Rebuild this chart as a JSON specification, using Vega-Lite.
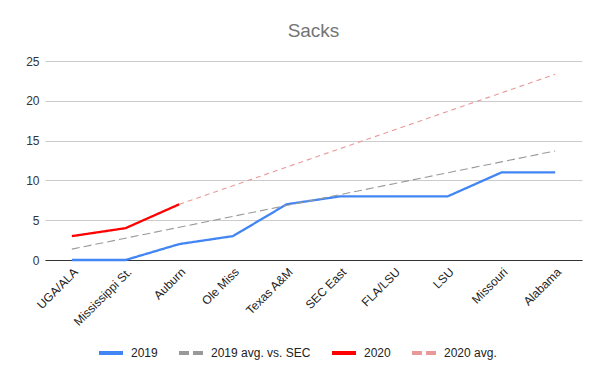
{
  "$schema": "https://vega.github.io/schema/vega-lite/v6.json",
  "width": 537,
  "height": 199,
  "autosize": {"type": "none"},
  "padding": {"left": 45, "top": 61, "right": 18, "bottom": 111},
  "background": "white",
  "config": {
    "font": "Liberation Sans",
    "view": {"stroke": null}
  },
  "title": {
    "text": "Sacks",
    "fontSize": 19,
    "fontWeight": "normal",
    "color": "#757575",
    "anchor": "middle",
    "offset": 14
  },
  "data": {
    "values": [
      {"game": "UGA/ALA", "series": "2019", "value": 0},
      {"game": "Mississippi St.", "series": "2019", "value": 0},
      {"game": "Auburn", "series": "2019", "value": 2},
      {"game": "Ole Miss", "series": "2019", "value": 3},
      {"game": "Texas A&M", "series": "2019", "value": 7},
      {"game": "SEC East", "series": "2019", "value": 8},
      {"game": "FLA/LSU", "series": "2019", "value": 8},
      {"game": "LSU", "series": "2019", "value": 8},
      {"game": "Missouri", "series": "2019", "value": 11},
      {"game": "Alabama", "series": "2019", "value": 11},
      {"game": "UGA/ALA", "series": "2019 avg. vs. SEC", "value": 1.37},
      {"game": "Mississippi St.", "series": "2019 avg. vs. SEC", "value": 2.74},
      {"game": "Auburn", "series": "2019 avg. vs. SEC", "value": 4.11},
      {"game": "Ole Miss", "series": "2019 avg. vs. SEC", "value": 5.48},
      {"game": "Texas A&M", "series": "2019 avg. vs. SEC", "value": 6.85},
      {"game": "SEC East", "series": "2019 avg. vs. SEC", "value": 8.22},
      {"game": "FLA/LSU", "series": "2019 avg. vs. SEC", "value": 9.59},
      {"game": "LSU", "series": "2019 avg. vs. SEC", "value": 10.96},
      {"game": "Missouri", "series": "2019 avg. vs. SEC", "value": 12.33},
      {"game": "Alabama", "series": "2019 avg. vs. SEC", "value": 13.7},
      {"game": "UGA/ALA", "series": "2020", "value": 3},
      {"game": "Mississippi St.", "series": "2020", "value": 4},
      {"game": "Auburn", "series": "2020", "value": 7},
      {"game": "Auburn", "series": "2020 avg.", "value": 7},
      {"game": "Ole Miss", "series": "2020 avg.", "value": 9.33},
      {"game": "Texas A&M", "series": "2020 avg.", "value": 11.67},
      {"game": "SEC East", "series": "2020 avg.", "value": 14},
      {"game": "FLA/LSU", "series": "2020 avg.", "value": 16.33},
      {"game": "LSU", "series": "2020 avg.", "value": 18.67},
      {"game": "Missouri", "series": "2020 avg.", "value": 21},
      {"game": "Alabama", "series": "2020 avg.", "value": 23.33}
    ]
  },
  "mark": {"type": "line", "strokeCap": "butt", "strokeJoin": "round"},
  "encoding": {
    "x": {
      "field": "game",
      "type": "nominal",
      "scale": {
        "type": "point",
        "padding": 0.5,
        "domain": ["UGA/ALA", "Mississippi St.", "Auburn", "Ole Miss", "Texas A&M", "SEC East", "FLA/LSU", "LSU", "Missouri", "Alabama"]
      },
      "axis": {
        "title": null,
        "labelAngle": -45,
        "labelFontSize": 12,
        "labelColor": "#222222",
        "ticks": false,
        "domain": true,
        "domainColor": "#333333",
        "domainWidth": 1,
        "grid": false,
        "labelPadding": 6
      }
    },
    "y": {
      "field": "value",
      "type": "quantitative",
      "scale": {"domain": [0, 25], "nice": false},
      "axis": {
        "title": null,
        "values": [0, 5, 10, 15, 20, 25],
        "labelFontSize": 12,
        "labelColor": "#333333",
        "ticks": false,
        "domain": false,
        "gridColor": "#cccccc",
        "labelPadding": 6
      }
    },
    "color": {
      "field": "series",
      "type": "nominal",
      "scale": {
        "domain": ["2019", "2019 avg. vs. SEC", "2020", "2020 avg."],
        "range": ["#4285f4", "#999999", "#ff0000", "#ea9999"]
      },
      "legend": {
        "title": null,
        "orient": "none",
        "legendX": 52,
        "legendY": 278,
        "direction": "horizontal",
        "symbolType": "stroke",
        "symbolSize": 576,
        "symbolStrokeWidth": 4,
        "labelFontSize": 12,
        "labelColor": "#222222",
        "columnPadding": 13,
        "labelOffset": 6,
        "encode": {
          "symbols": {
            "update": {
              "strokeWidth": {"value": 4},
              "strokeDash": [
                {"test": "datum.value === '2019 avg. vs. SEC' || datum.value === '2020 avg.'", "value": [10, 4]},
                {"value": [1, 0]}
              ]
            }
          }
        }
      }
    },
    "strokeDash": {
      "condition": [
        {"test": "datum.series === '2019 avg. vs. SEC'", "value": [8, 4]},
        {"test": "datum.series === '2020 avg.'", "value": [5, 4]}
      ],
      "value": [1, 0]
    },
    "strokeWidth": {
      "condition": {"test": "datum.series === '2019' || datum.series === '2020'", "value": 2.3},
      "value": 1.1
    }
  }
}
